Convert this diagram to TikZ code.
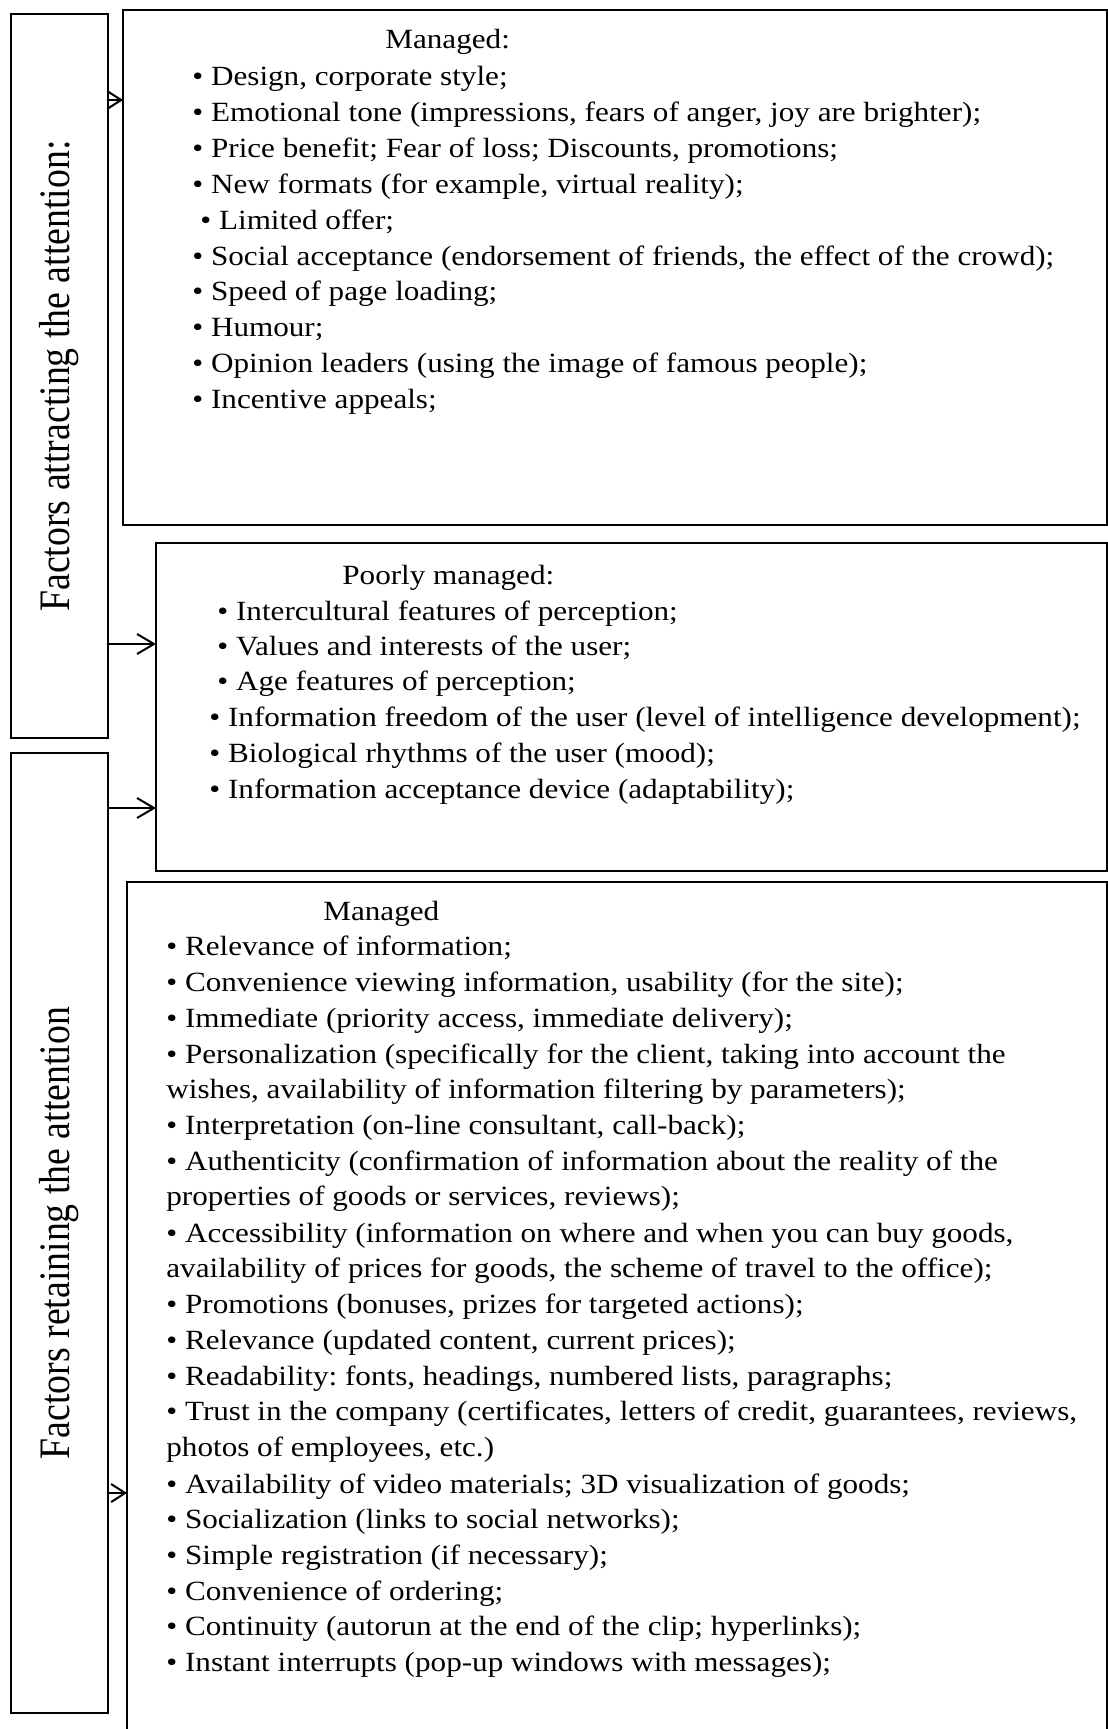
\documentclass[tikz,border=0pt]{standalone}
\usepackage{fontspec}
\usepackage{graphicx}
\usetikzlibrary{arrows.meta}
\newfontfamily\bodyfont{Liberation Serif}[FakeStretch=1.12]
\newfontfamily\sidefont{Liberation Serif}
\frenchspacing
\begin{document}
\frenchspacing
\begin{tikzpicture}[x=0.5pt,y=-0.5pt,
  box/.style={draw, line width=1pt, inner sep=0pt, outer sep=0pt, anchor=north west},
  txt/.style={anchor=base west, inner sep=0pt, font=\bodyfont\fontsize{13.9}{17}\selectfont\frenchspacing},
  side/.style={rotate=90, inner sep=0pt, font=\sidefont\fontsize{18.9}{22}\selectfont},
  arr/.style={line width=1pt, -{Straight Barb[length=8.5pt,width=10pt,line width=1pt]}},
  arrs/.style={line width=1pt, -{Straight Barb[length=7pt,width=9pt,line width=1pt]}}]
\useasboundingbox (0,0) rectangle (1108,1729);
\clip (0,0) rectangle (1108,1729);
\fill[white] (0,0) rectangle (1108,1729);
% boxes
\node[box, minimum width=48.5pt, minimum height=362pt] (A) at (11,14) {};
\node[box, minimum width=48.5pt, minimum height=480pt] (E) at (11,753) {};
\node[box, minimum width=492pt, minimum height=257.5pt] (B) at (123,10) {};
\node[box, minimum width=475.5pt, minimum height=164pt] (C) at (156,543) {};
\node[box, minimum width=490pt, minimum height=440pt] (D) at (127,882) {};
% side labels
\node[side] (At) at (A.center) {\scalebox{1}[1.15]{Factors attracting the attention:}};
\node[side] (Et) at (E.center) {\scalebox{1}[1.15]{Factors retaining the attention}};
% connectors
\coordinate (y1) at (0,100);
\coordinate (y2) at (0,644);
\coordinate (y3) at (0,808);
\coordinate (y4) at (0,1493);
\draw[arrs] (A.east |- y1) -- (B.west |- y1);
\draw[arr] (A.east |- y2) -- (C.west |- y2);
\draw[arr] (E.east |- y3) -- (C.west |- y3);
\draw[arrs] (E.east |- y4) -- (D.west |- y4);
% box B text
\node[txt] (b0) at (385,48) {Managed:};
\node[txt] (b1) at (192,85) {• Design, corporate style;};
\node[txt] (b2) at (192,121) {• Emotional tone (impressions, fears of anger, joy are brighter);};
\node[txt] (b3) at (192,157) {• Price benefit; Fear of loss; Discounts, promotions;};
\node[txt] (b4) at (192,193) {• New formats (for example, virtual reality);};
\node[txt] (b5) at (200,229) {• Limited offer;};
\node[txt] (b6) at (192,265) {• Social acceptance (endorsement of friends, the effect of the crowd);};
\node[txt] (b7) at (192,300) {• Speed of page loading;};
\node[txt] (b8) at (192,336) {• Humour;};
\node[txt] (b9) at (192,372) {• Opinion leaders (using the image of famous people);};
\node[txt] (b10) at (192,408) {• Incentive appeals;};
% box C text
\node[txt] (c0) at (342,584) {Poorly managed:};
\node[txt] (c1) at (217,620) {• Intercultural features of perception;};
\node[txt] (c2) at (217,655) {• Values and interests of the user;};
\node[txt] (c3) at (217,690) {• Age features of perception;};
\node[txt] (c4) at (209,726) {• Information freedom of the user (level of intelligence development);};
\node[txt] (c5) at (209,762) {• Biological rhythms of the user (mood);};
\node[txt] (c6) at (209,798) {• Information acceptance device (adaptability);};
% box D text
\node[txt] (d0) at (323,920) {Managed};
\node[txt] (d1) at (166,955) {• Relevance of information;};
\node[txt] (d2) at (166,991) {• Convenience viewing information, usability (for the site);};
\node[txt] (d3) at (166,1027) {• Immediate (priority access, immediate delivery);};
\node[txt] (d4) at (166,1063) {• Personalization (specifically for the client, taking into account the};
\node[txt] (d5) at (166,1098) {wishes, availability of information filtering by parameters);};
\node[txt] (d6) at (166,1134) {• Interpretation (on-line consultant, call-back);};
\node[txt] (d7) at (166,1170) {• Authenticity (confirmation of information about the reality of the};
\node[txt] (d8) at (166,1205) {properties of goods or services, reviews);};
\node[txt] (d9) at (166,1242) {• Accessibility (information on where and when you can buy goods,};
\node[txt] (d10) at (166,1277) {availability of prices for goods, the scheme of travel to the office);};
\node[txt] (d11) at (166,1313) {• Promotions (bonuses, prizes for targeted actions);};
\node[txt] (d12) at (166,1349) {• Relevance (updated content, current prices);};
\node[txt] (d13) at (166,1385) {• Readability: fonts, headings, numbered lists, paragraphs;};
\node[txt] (d14) at (166,1420) {• Trust in the company (certificates, letters of credit, guarantees, reviews,};
\node[txt] (d15) at (166,1456) {photos of employees, etc.)};
\node[txt] (d16) at (166,1493) {• Availability of video materials; 3D visualization of goods;};
\node[txt] (d17) at (166,1528) {• Socialization (links to social networks);};
\node[txt] (d18) at (166,1564) {• Simple registration (if necessary);};
\node[txt] (d19) at (166,1600) {• Convenience of ordering;};
\node[txt] (d20) at (166,1635) {• Continuity (autorun at the end of the clip; hyperlinks);};
\node[txt] (d21) at (166,1671) {• Instant interrupts (pop-up windows with messages);};
\end{tikzpicture}
\end{document}
